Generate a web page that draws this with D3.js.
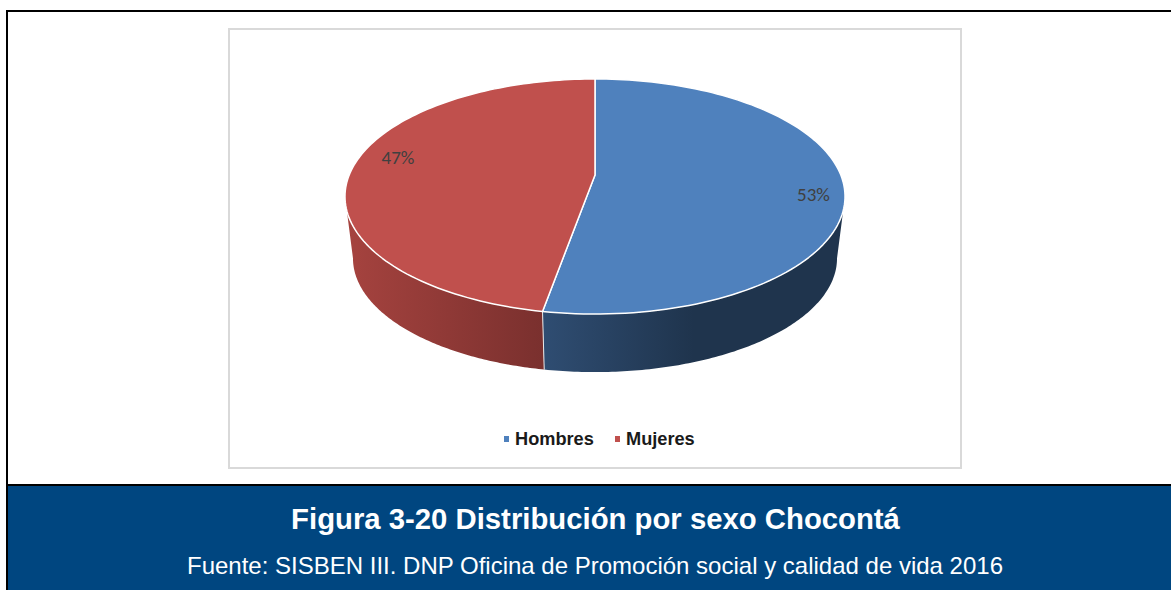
<!DOCTYPE html>
<html>
<head>
<meta charset="utf-8">
<script src="https://cdn.jsdelivr.net/npm/d3@7"></script>
<style>
  html, body { margin: 0; padding: 0; background: #fff; overflow: hidden; }
</style>
</head>
<body>
<div class="svg_area"></div>
<script>
// Data
var categories = ["Hombres", "Mujeres"];
var shares = [0.528, 0.472];
var sliceColors = ["#4f81bd", "#c0504d"];
var titleText = "Figura 3-20 Distribución por sexo Chocontá";
var sourceText = "Fuente: SISBEN III. DNP Oficina de Promoción social y calidad de vida 2016";

var svgWidth = 1171;
var svgHeight = 590;

var svg = d3.select(".svg_area")
  .append("svg")
  .attr("width", svgWidth)
  .attr("height", svgHeight)
  .style("display", "block");

// Page frame
svg.append("rect").attr("width", svgWidth).attr("height", svgHeight).attr("fill", "#fff");
svg.append("rect").attr("x", 6).attr("y", 10).attr("width", svgWidth - 6).attr("height", 2).attr("fill", "#000");
svg.append("rect").attr("x", 6).attr("y", 10).attr("width", 2).attr("height", svgHeight - 10).attr("fill", "#000");
svg.append("rect").attr("x", 6).attr("y", 484).attr("width", svgWidth - 6).attr("height", 2).attr("fill", "#000");
svg.append("rect").attr("x", 8).attr("y", 486).attr("width", svgWidth - 8).attr("height", svgHeight - 486).attr("fill", "#004680");

// Chart box
svg.append("rect")
  .attr("x", 229).attr("y", 29)
  .attr("width", 732).attr("height", 439)
  .attr("fill", "#fff")
  .attr("stroke", "#d9d9d9")
  .attr("stroke-width", 2);

// Tilted pie: circle -> screen through a perspective map
var centerX = 595, centerY = 175;
var radiusX = 245.8, radiusY = 113.6, tilt = 0.183;
var wallShrink = 0.968, topMidY = 196.5, bottomMidY = 258.3;

function topPoint(a) {
  var w = 1 + tilt * Math.cos(a);
  return [centerX + radiusX * Math.sin(a) / w, centerY - radiusY * Math.cos(a) / w];
}
function bottomPoint(a) {
  var p = topPoint(a);
  return [centerX + (p[0] - centerX) * wallShrink, bottomMidY + (p[1] - topMidY) * wallShrink];
}
function samples(a0, a1) {
  var n = 120;
  return d3.range(n + 1).map(i => a0 + (a1 - a0) * i / n);
}

var pie = d3.pie().sort(null)(shares);
var line = d3.line();

// Wall gradients
var defs = svg.append("defs");
function wallGradient(id, x1, x2, stops) {
  var g = defs.append("linearGradient")
    .attr("id", id)
    .attr("gradientUnits", "userSpaceOnUse")
    .attr("x1", x1).attr("x2", x2).attr("y1", 0).attr("y2", 0);
  stops.forEach(s => g.append("stop").attr("offset", s[0]).attr("stop-color", s[1]));
}
wallGradient("wall0", 543, 845, [[0, "#2f4d72"], [0.5, "#1f344d"], [1, "#1f344d"]]);
wallGradient("wall1", 345, 543, [[0, "#a6433f"], [1, "#7a302e"]]);

// Wall runs between the two widest points of the rim
var frontStart = Math.acos(-tilt), frontEnd = 2 * Math.PI - frontStart;
var walls = svg.append("g");
pie.forEach(function(d, i) {
  var a0 = Math.max(d.startAngle, frontStart);
  var a1 = Math.min(d.endAngle, frontEnd);
  var angles = samples(a0, a1);
  var outline = angles.map(topPoint).concat(angles.slice().reverse().map(bottomPoint));
  walls.append("path")
    .attr("d", line(outline) + "Z")
    .attr("fill", `url(#wall${i})`);
});

// Divider on the wall
var splitAngle = pie[0].endAngle;
walls.append("path")
  .attr("d", line([topPoint(splitAngle), bottomPoint(splitAngle)]))
  .attr("stroke", "#e8e8e8")
  .attr("stroke-width", 1);

// Top face
svg.append("g").selectAll("path")
  .data(pie)
  .enter()
  .append("path")
  .attr("d", d => line([[centerX, centerY]].concat(samples(d.startAngle, d.endAngle).map(topPoint))) + "Z")
  .attr("fill", (d, i) => sliceColors[i])
  .attr("stroke", "#fff")
  .attr("stroke-width", 1.5)
  .attr("stroke-linejoin", "round");

// Data labels
var labelPos = [[813.5, 201], [398, 164]];
svg.append("g").selectAll("text")
  .data(pie)
  .enter()
  .append("text")
  .attr("x", (d, i) => labelPos[i][0])
  .attr("y", (d, i) => labelPos[i][1])
  .attr("text-anchor", "middle")
  .attr("font-family", "Calibri, Carlito, 'Open Sans', sans-serif")
  .attr("font-size", 19)
  .attr("fill", "#404040")
  .text(d => d3.format(".0%")(d.data));

// Legend
var legendX = [504, 615];
var legend = svg.append("g").selectAll("g")
  .data(categories)
  .enter()
  .append("g")
  .attr("transform", (d, i) => `translate(${legendX[i]}, 436)`);
legend.append("rect")
  .attr("width", 5).attr("height", 6)
  .attr("fill", (d, i) => sliceColors[i]);
legend.append("text")
  .attr("x", 11).attr("y", 9)
  .attr("font-family", "'Liberation Sans', Arial, sans-serif")
  .attr("font-weight", "bold")
  .attr("font-size", 18.2)
  .attr("fill", "#1a1a1a")
  .text(d => d);

// Caption
svg.append("text")
  .attr("x", 595.5).attr("y", 529)
  .attr("text-anchor", "middle")
  .attr("font-family", "'Liberation Sans', Arial, sans-serif")
  .attr("font-weight", "bold")
  .attr("font-size", 29.3)
  .attr("fill", "#fff")
  .text(titleText);

svg.append("text")
  .attr("x", 595).attr("y", 574)
  .attr("text-anchor", "middle")
  .attr("font-family", "'Liberation Sans', Arial, sans-serif")
  .attr("font-size", 24)
  .attr("fill", "#fff")
  .text(sourceText);
</script>
</body>
</html>
